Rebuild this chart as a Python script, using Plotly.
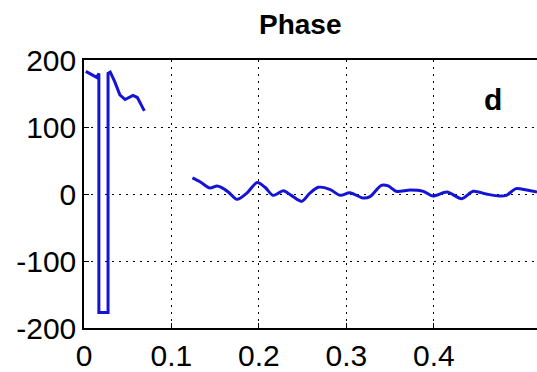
import plotly.graph_objects as go

# Segment 1 (low-frequency part, with phase wrap)
seg1_x = [0.002, 0.0145, 0.017, 0.017, 0.0275, 0.0275, 0.030, 0.035, 0.041, 0.047, 0.056, 0.061, 0.069]
seg1_y = [183, 174, 180, -177, -177, 180, 182, 168, 148, 141, 147, 144, 124]

# Segment 2
seg2_x = [0.124, 0.133, 0.144, 0.152, 0.157, 0.165, 0.175, 0.186, 0.198, 0.207, 0.216, 0.222,
          0.228, 0.237, 0.249, 0.258, 0.268, 0.281, 0.293, 0.304, 0.319, 0.327, 0.340, 0.348,
          0.357, 0.373, 0.388, 0.399, 0.415, 0.432, 0.445, 0.460, 0.475, 0.483, 0.494, 0.506, 0.518]
seg2_y = [24, 18, 9, 12, 10, 3, -8, 1, 17, 10, -2, 1,
          5, -2, -11, 1, 10, 7, -2, 2, -6, -4, 13, 12,
          4, 6, 4, -3, 3, -7, 4, 0, -3, -2, 8, 6, 3]

x_ticks = [0, 0.1, 0.2, 0.3, 0.4]
x_tick_labels = ["0", "0.1", "0.2", "0.3", "0.4"]
y_ticks = [-200, -100, 0, 100, 200]
y_tick_labels = ["-200", "-100", "0", "100", "200"]

line_color = "rgb(20,20,215)"
font_family = "Liberation Sans, Arial, Helvetica, sans-serif"

fig = go.Figure()
fig.add_trace(go.Scatter(x=seg1_x, y=seg1_y, mode="lines",
                         line=dict(color=line_color, width=3),
                         showlegend=False, hoverinfo="skip"))
fig.add_trace(go.Scatter(x=seg2_x, y=seg2_y, mode="lines",
                         line=dict(color=line_color, width=3, shape="spline", smoothing=0.8),
                         showlegend=False, hoverinfo="skip"))

fig.update_layout(
    width=537, height=372,
    margin=dict(l=84, r=0, t=60, b=41),
    paper_bgcolor="white", plot_bgcolor="white",
    font=dict(family=font_family, size=30, color="black"),
    showlegend=False,
)
fig.update_xaxes(
    range=[0, 0.518], tickvals=x_ticks, ticktext=x_tick_labels,
    showgrid=True, gridcolor="black", griddash="2px,5px", gridwidth=1,
    showline=True, linecolor="black", linewidth=1.5, mirror=True,
    ticks="inside", ticklen=5, tickcolor="black",
    zeroline=False, tickfont=dict(size=30, family=font_family),
)
fig.update_yaxes(
    range=[-200, 200], tickvals=y_ticks, ticktext=y_tick_labels,
    showgrid=True, gridcolor="black", griddash="2px,5px", gridwidth=1,
    showline=True, linecolor="black", linewidth=1.5,
    ticks="inside", ticklen=5, tickcolor="black",
    zeroline=False, tickfont=dict(size=30, family=font_family),
)
fig.add_annotation(text="<b>Phase</b>", xref="paper", yref="paper",
                   x=(300 - 84) / (537 - 84), y=1, yshift=36, showarrow=False,
                   xanchor="center", yanchor="middle",
                   font=dict(size=28, family=font_family, color="black"))
fig.add_annotation(text="<b>d</b>", xref="paper", yref="paper",
                   x=(493 - 84) / (537 - 84), y=(331 - 100) / (331 - 60), showarrow=False,
                   xanchor="center", yanchor="middle",
                   font=dict(size=30, family=font_family, color="black"))

fig.write_html("out.html")
